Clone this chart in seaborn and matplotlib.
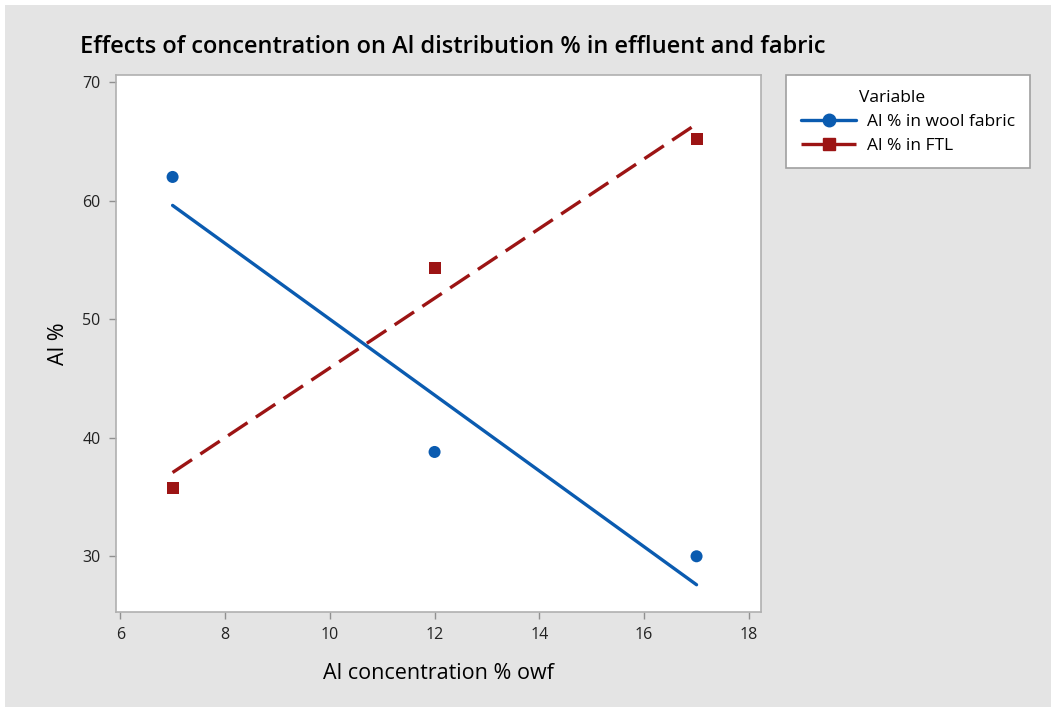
import numpy as np
import pandas as pd
import matplotlib
matplotlib.use("Agg")
import matplotlib.pyplot as plt
import seaborn as sns
from matplotlib.lines import Line2D
from matplotlib.patches import Rectangle

# data
concentration = [7, 12, 17]
wool_fabric = [62.0, 38.8, 30.0]
ftl = [35.8, 54.3, 65.2]
series_names = ["Al % in wool fabric", "Al % in FTL"]

df = pd.DataFrame({
    "conc": concentration * 2,
    "al": wool_fabric + ftl,
    "variable": [series_names[0]] * 3 + [series_names[1]] * 3,
})

sns.set_style("white")
plt.rcParams["font.family"] = ["Open Sans", "DejaVu Sans"]
plt.rcParams["text.color"] = "black"
plt.rcParams["axes.labelcolor"] = "black"
plt.rcParams["xtick.color"] = "#909090"
plt.rcParams["ytick.color"] = "#909090"
plt.rcParams["xtick.labelcolor"] = "#222222"
plt.rcParams["ytick.labelcolor"] = "#222222"

blue = "#0a5bb0"
red = "#9c1414"
bg = "#e4e4e4"

fig = plt.figure(figsize=(10.51, 7.07), dpi=100, facecolor=bg)
# thin white strips along the top and left edge of the screenshot
fig.patches.append(Rectangle((0, 1 - 5 / 707), 1, 5 / 707, transform=fig.transFigure,
                             facecolor="white", edgecolor="none", zorder=-10))
fig.patches.append(Rectangle((0, 0), 5 / 1051, 1, transform=fig.transFigure,
                             facecolor="white", edgecolor="none", zorder=-10))

ax = fig.add_axes([116 / 1051, 1 - 612 / 707, (761 - 116) / 1051, (612 - 75) / 707])
ax.set_facecolor("white")

dash = (0, (7, 3))
styles = {
    series_names[0]: dict(color=blue, marker="o", ls="-"),
    series_names[1]: dict(color=red, marker="s", ls=dash),
}
for name, sub in df.groupby("variable", sort=False):
    st = styles[name]
    sns.regplot(data=sub, x="conc", y="al", ax=ax, ci=None, truncate=True,
                color=st["color"], marker=st["marker"],
                scatter_kws=dict(s=75, edgecolor="none", alpha=1, zorder=3),
                line_kws=dict(lw=2.4, ls=st["ls"]))

ax.set_xlim(5.92, 18.23)
ax.set_ylim(25.3, 70.6)
ax.set_xticks([6, 8, 10, 12, 14, 16, 18])
ax.set_yticks([30, 40, 50, 60, 70])
ax.tick_params(axis="both", direction="out", length=5, width=1,
               labelsize=11.5, pad=6, left=True, bottom=True)
for sp in ax.spines.values():
    sp.set_color("#b0b0b0")
    sp.set_linewidth(1.2)

ax.set_xlabel("Al concentration % owf", fontsize=15.5, labelpad=14)
ax.set_ylabel("Al %", fontsize=15.5, labelpad=10)
fig.text(80 / 1051, 1 - 47 / 707, "Effects of concentration on Al distribution % in effluent and fabric",
         fontsize=17, fontweight="semibold", va="center", ha="left")

handles = [
    Line2D([], [], color=blue, marker="o", ls="-", lw=2.4, ms=9),
    Line2D([], [], color=red, marker="s", ls=dash, lw=2.4, ms=9),
]
leg = fig.legend(handles, series_names, title="Variable", loc="upper left",
                 bbox_to_anchor=(786 / 1051, 1 - 75 / 707), fontsize=12.5,
                 title_fontsize=12.5, frameon=True, fancybox=False, framealpha=1,
                 handlelength=3.2, borderpad=0.85, labelspacing=0.45,
                 borderaxespad=0, handletextpad=0.6)
leg.get_frame().set_edgecolor("#a0a0a0")
leg.get_frame().set_linewidth(1.2)
leg.get_frame().set_facecolor("white")
leg._legend_box.align = "left"
leg.get_title().set_position((58, 0))

fig.savefig("out.png", dpi=100, facecolor=bg)
